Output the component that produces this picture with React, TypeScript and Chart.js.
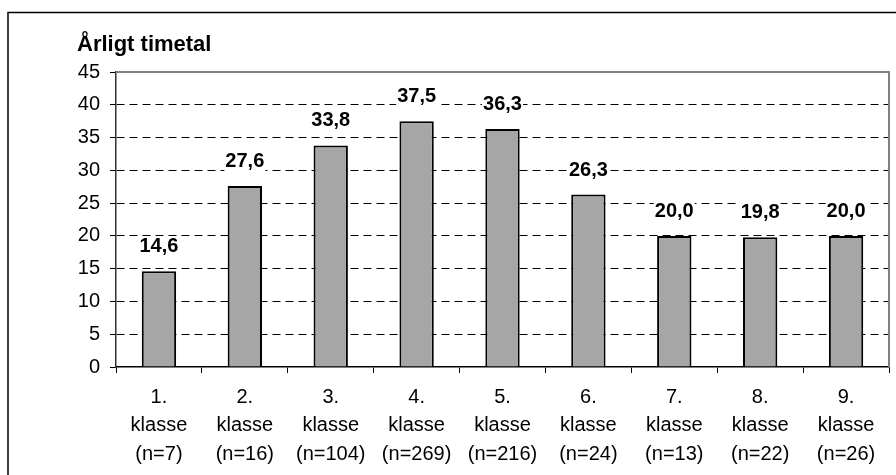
import React, { useEffect, useRef } from "react";
import { Chart, registerables } from "chart.js";

Chart.register(...registerables);

const grades = ["1.", "2.", "3.", "4.", "5.", "6.", "7.", "8.", "9."];
const sampleSizes = [7, 16, 104, 269, 216, 24, 13, 22, 26];
const hoursPerYear = [14.6, 27.6, 33.8, 37.5, 36.3, 26.3, 20.0, 19.8, 20.0];
const yTitle = "Årligt timetal";
const yMin = 0;
const yMax = 45;
const yStep = 5;

const FONT = "'Liberation Sans', Arial, sans-serif";

const framePlugin = {
  id: "frame",
  beforeDraw(chart: any) {
    const { ctx, width, height } = chart;
    ctx.save();
    ctx.fillStyle = "#ffffff";
    ctx.fillRect(0, 0, width, height);
    ctx.strokeStyle = "#000000";
    ctx.lineWidth = 1.5;
    ctx.beginPath();
    ctx.moveTo(8, height + 2);
    ctx.lineTo(8, 12.5);
    ctx.lineTo(width + 2, 12.5);
    ctx.stroke();
    ctx.fillStyle = "#000000";
    ctx.font = `bold 22px ${FONT}`;
    ctx.textBaseline = "alphabetic";
    ctx.textAlign = "left";
    ctx.fillText(yTitle, 77, 51);
    ctx.restore();
  },
  afterDraw(chart: any) {
    const { ctx, chartArea } = chart;
    ctx.save();
    ctx.strokeStyle = "#808080";
    ctx.lineWidth = 2;
    ctx.beginPath();
    ctx.moveTo(chartArea.left, chartArea.top);
    ctx.lineTo(chartArea.right, chartArea.top);
    ctx.lineTo(chartArea.right, chartArea.bottom);
    ctx.stroke();
    ctx.restore();
  },
};

const valueLabelPlugin = {
  id: "valueLabels",
  afterDatasetsDraw(chart: any) {
    const { ctx } = chart;
    const meta = chart.getDatasetMeta(0);
    ctx.save();
    ctx.font = `bold 20px ${FONT}`;
    ctx.textAlign = "center";
    ctx.textBaseline = "alphabetic";
    meta.data.forEach((bar: any, i: number) => {
      const txt = hoursPerYear[i].toFixed(1).replace(".", ",");
      const w = ctx.measureText(txt).width;
      const yb = bar.y - 19;
      ctx.fillStyle = "#ffffff";
      ctx.fillRect(bar.x - w / 2 - 1, yb - 16, w + 2, 20);
      ctx.fillStyle = "#000000";
      ctx.fillText(txt, bar.x, yb);
    });
    ctx.restore();
  },
};

export default function App() {
  const canvasRef = useRef<HTMLCanvasElement | null>(null);

  useEffect(() => {
    if (!canvasRef.current) return;
    const labels = grades.map((g, i) => [g, "klasse", `(n=${sampleSizes[i]})`]);
    const chart = new Chart(canvasRef.current, {
      type: "bar",
      data: {
        labels,
        datasets: [
          {
            data: hoursPerYear,
            backgroundColor: "#a6a6a6",
            borderColor: "#000000",
            borderWidth: 2,
            categoryPercentage: 1,
            barPercentage: 0.4,
          },
        ],
      },
      options: {
        animation: false,
        responsive: true,
        maintainAspectRatio: false,
        layout: { padding: { left: 0, top: 72, right: 7, bottom: 0 } },
        plugins: {
          legend: { display: false },
          tooltip: { enabled: false },
          title: { display: false },
        },
        scales: {
          x: {
            grid: {
              offset: true,
              drawOnChartArea: false,
              color: "#000000",
              tickColor: "#000000",
              tickLength: 6,
              lineWidth: 1,
            },
            border: { color: "#000000", width: 1.5 },
            ticks: {
              color: "#000000",
              font: { family: FONT, size: 20, lineHeight: 1.42 },
              padding: 10,
              maxRotation: 0,
              autoSkip: false,
            },
            afterFit(scale: any) {
              scale.height = 475 - 367;
            },
          },
          y: {
            min: yMin,
            max: yMax,
            grid: {
              color: (c: any) =>
                c.tick && (c.tick.value === yMin || c.tick.value === yMax)
                  ? "rgba(0,0,0,0)"
                  : "#000000",
              tickColor: "#000000",
              tickLength: 6,
              lineWidth: 1,
              tickBorderDash: [],
            },
            border: { color: "#333333", width: 1.5, dash: [8, 5] },
            ticks: {
              stepSize: yStep,
              color: "#000000",
              font: { family: FONT, size: 20 },
              padding: 10,
            },
            afterFit(scale: any) {
              scale.width = 116;
            },
          },
        },
      },
      plugins: [framePlugin, valueLabelPlugin],
    });
    return () => chart.destroy();
  }, []);

  return (
    <div style={{ position: "fixed", left: 0, top: 0, width: 896, height: 475, background: "#fff" }}>
      <canvas ref={canvasRef} />
    </div>
  );
}
